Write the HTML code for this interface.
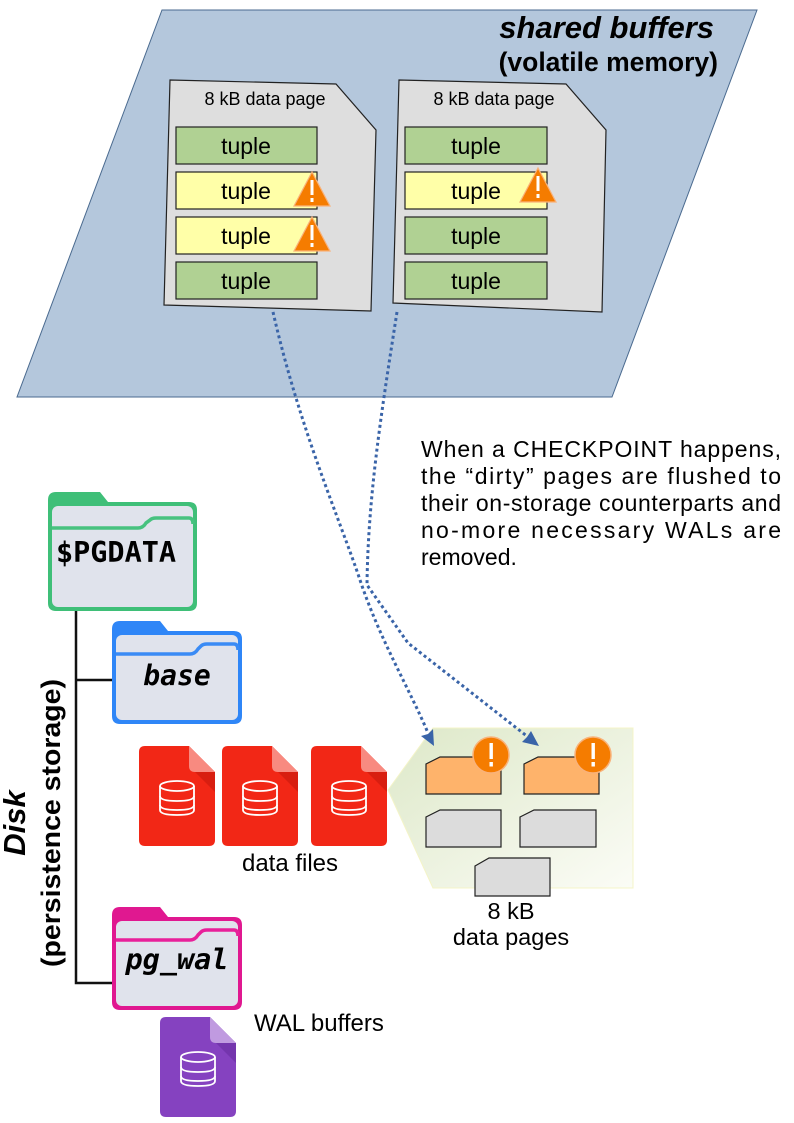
<!DOCTYPE html>
<html><head><meta charset="utf-8"><style>html,body{margin:0;padding:0;background:#fff}svg{display:block}</style></head><body>
<svg width="794" height="1123" viewBox="0 0 794 1123" xmlns="http://www.w3.org/2000/svg" font-family="Liberation Sans, sans-serif">
<defs>
<linearGradient id="gz" x1="0" y1="0" x2="1" y2="1"><stop offset="0" stop-color="#dde8c8"/><stop offset="1" stop-color="#fbfcf6"/></linearGradient>
<g id="db" fill="none" stroke="#fff" stroke-width="1.8"><ellipse cx="38" cy="40" rx="17" ry="5"/><path d="M21,40 V64 Q21,69 38,69 Q55,69 55,64 V40"/><path d="M21,50 Q21,55 38,55 Q55,55 55,50"/><path d="M21,59 Q21,64 38,64 Q55,64 55,59"/></g>
</defs>
<!-- shared buffers -->
<polygon points="162,10 757,10 612,397 17,397" fill="#b4c7dc" stroke="#4a6a8f" stroke-width="1"/>
<text x="714" y="38" font-size="31" font-weight="bold" font-style="italic" text-anchor="end">shared buffers</text>
<text x="718" y="71" font-size="26.5" font-weight="bold" text-anchor="end">(volatile memory)</text>
<!-- pages -->
<polygon points="170,80 336,84 376,130 371,311 164,305" fill="#dedede" stroke="#222" stroke-width="1.2"/>
<polygon points="399,80 566,84 606,130 602,312 393,303" fill="#dedede" stroke="#222" stroke-width="1.2"/>
<text x="265" y="105" font-size="18" text-anchor="middle">8 kB data page</text>
<text x="494" y="105" font-size="18" text-anchor="middle">8 kB data page</text>
<g stroke="#222" stroke-width="1.2">
<rect x="176" y="127" width="141" height="37" fill="#b0d193"/>
<rect x="176" y="172" width="141" height="37" fill="#ffffa8"/>
<rect x="176" y="217" width="141" height="37" fill="#ffffa8"/>
<rect x="176" y="262" width="141" height="37" fill="#b0d193"/>
<rect x="405" y="127" width="142" height="37" fill="#b0d193"/>
<rect x="405" y="172" width="142" height="37" fill="#ffffa8"/>
<rect x="405" y="217" width="142" height="37" fill="#b0d193"/>
<rect x="405" y="262" width="142" height="37" fill="#b0d193"/>
</g>
<g font-size="23" text-anchor="middle">
<text x="246" y="154">tuple</text><text x="246" y="199">tuple</text><text x="246" y="244">tuple</text><text x="246" y="289">tuple</text>
<text x="476" y="154">tuple</text><text x="476" y="199">tuple</text><text x="476" y="244">tuple</text><text x="476" y="289">tuple</text>
</g>
<g id="warn"><polygon points="312,172 294,206 330,206" fill="#f57c00" stroke="#f9b27a" stroke-width="1.2"/><rect x="310.5" y="180" width="3" height="15" fill="#fff"/><rect x="310.5" y="198" width="3" height="4" fill="#fff"/></g>
<use href="#warn" y="45"/>
<use href="#warn" x="226" y="-4"/>
<!-- text -->
<g font-size="23">
<text x="421" y="457" textLength="360" lengthAdjust="spacing">When a CHECKPOINT happens,</text>
<text x="421" y="484" textLength="360" lengthAdjust="spacing">the “dirty” pages are flushed to</text>
<text x="421" y="511" textLength="360" lengthAdjust="spacing">their on-storage counterparts and</text>
<text x="421" y="538" textLength="360" lengthAdjust="spacing">no-more necessary WALs are</text>
<text x="421" y="565">removed.</text>
</g>
<!-- tree -->
<path d="M76,605 V983 H114 M76,680 H114" fill="none" stroke="#111" stroke-width="2.5"/>
<!-- folders -->
<g transform="translate(48,490)">
<path d="M0,110 V10 Q0,2 8,2 H52 L60,12 H141 Q149,12 149,20 V113 Q149,121 141,121 H8 Q0,121 0,113Z" fill="#3fbf78"/>
<rect x="4" y="16" width="141" height="101" rx="6" fill="#e0e3ec"/>
<path d="M4,38 H90 Q95,38 98,33 L102,30 Q104,28 108,28 H141 Q145,28 145,34" fill="none" stroke="#47c27f" stroke-width="3.5"/>
<text x="68" y="72" font-family="DejaVu Sans Mono, Liberation Mono, monospace" font-size="28.5" font-weight="bold" text-anchor="middle">$PGDATA</text>
</g>
<g transform="translate(112,619)">
<path d="M0,95 V10 Q0,2 8,2 H48 L56,12 H122 Q130,12 130,20 V97 Q130,105 122,105 H8 Q0,105 0,97Z" fill="#2f86f7"/>
<rect x="4" y="16" width="122" height="85" rx="6" fill="#e0e3ec"/>
<path d="M4,35 H78 Q83,35 86,30 L89,27 Q91,25 95,25 H122 Q126,25 126,31" fill="none" stroke="#3a8bf5" stroke-width="3.5"/>
<text x="65" y="66" font-family="DejaVu Sans Mono, Liberation Mono, monospace" font-size="28" font-weight="bold" font-style="italic" text-anchor="middle">base</text>
</g>
<g transform="translate(112,905)">
<path d="M0,95 V10 Q0,2 8,2 H48 L56,12 H122 Q130,12 130,20 V97 Q130,105 122,105 H8 Q0,105 0,97Z" fill="#e01890"/>
<rect x="4" y="16" width="122" height="85" rx="6" fill="#e0e3ec"/>
<path d="M4,35 H78 Q83,35 86,30 L89,27 Q91,25 95,25 H122 Q126,25 126,31" fill="none" stroke="#e8209a" stroke-width="3.5"/>
<text x="65" y="64" font-family="DejaVu Sans Mono, Liberation Mono, monospace" font-size="28.5" font-weight="bold" font-style="italic" text-anchor="middle">pg_wal</text>
</g>
<!-- disk label -->
<g transform="translate(46,823) rotate(-90)" text-anchor="middle">
<text x="0" y="-21" font-size="31" font-weight="bold" font-style="italic">Disk</text>
<text x="0" y="14" font-size="27" font-weight="bold" textLength="288" lengthAdjust="spacingAndGlyphs">(persistence storage)</text>
</g>
<!-- data files -->
<g id="rf"><path d="M6,0 H50 L76,26 V94 Q76,100 70,100 H6 Q0,100 0,94 V6 Q0,0 6,0Z" fill="#f22716" transform="translate(139,746)"/><path d="M50,0 L76,26 H56 Q50,26 50,20Z" fill="#f88a80" transform="translate(139,746)"/><path d="M56,26 L76,26 V46Z" fill="#d81e10" transform="translate(139,746)"/><use href="#db" transform="translate(139,746)"/></g>
<use href="#rf" x="83"/>
<use href="#rf" x="172"/>
<text x="290" y="871" font-size="24" text-anchor="middle">data files</text>
<!-- WAL file -->
<g transform="translate(160,1017)"><path d="M6,0 H50 L76,26 V94 Q76,100 70,100 H6 Q0,100 0,94 V6 Q0,0 6,0Z" fill="#8542c0"/><path d="M50,0 L76,26 H56 Q50,26 50,20Z" fill="#c09ae0"/><path d="M56,26 L76,26 V46Z" fill="#7435ad"/><use href="#db"/></g>
<text x="254" y="1031" font-size="24">WAL buffers</text>
<!-- zoom region -->
<polygon points="388,790 433,728 633,728 633,888 433,888" fill="url(#gz)" stroke="#f4f4c8" stroke-width="1"/>
<g stroke="#222" stroke-width="1.2">
<path d="M426,764 L440,757 H501 V794 H426Z" fill="#feb36b"/>
<path d="M524,764 L538,757 H599 V794 H524Z" fill="#feb36b"/>
<path d="M426,817 L440,810 H501 V847 H426Z" fill="#dcdcdc"/>
<path d="M520,817 L534,810 H596 V847 H520Z" fill="#dcdcdc"/>
<path d="M475,866 L489,858 H550 V896 H475Z" fill="#dcdcdc"/>
</g>
<g id="ex"><circle cx="491" cy="755" r="18" fill="#f57c00" stroke="#f9b27a" stroke-width="1.5"/><rect x="489.5" y="743" width="3.4" height="16" fill="#fff"/><rect x="489.5" y="762" width="3.4" height="4.5" fill="#fff"/></g>
<use href="#ex" x="102"/>
<text x="511" y="919" font-size="23.5" text-anchor="middle">8 kB</text>
<text x="511" y="945" font-size="23.5" text-anchor="middle">data pages</text>
<!-- arrows -->
<path d="M273,312 C300,430 340,520 360,580 C380,640 410,690 428,733" fill="none" stroke="#3a64a8" stroke-width="3" stroke-dasharray="3,3"/>
<polygon points="434,746 421,736 428,734 433,729" fill="#3a64a8"/>
<path d="M397,312 C380,420 368,500 367,585 L408,643 L528,737" fill="none" stroke="#3a64a8" stroke-width="3" stroke-dasharray="3,3"/>
<polygon points="539,746 522,742 527,737 531,731" fill="#3a64a8"/>
</svg>
</body></html>
